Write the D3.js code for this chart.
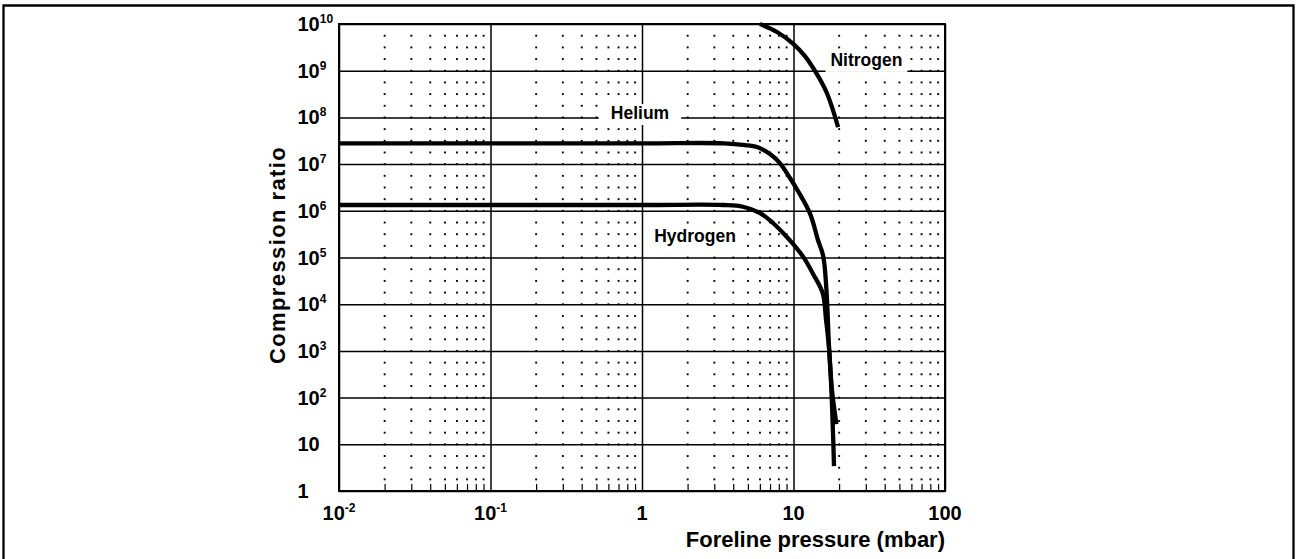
<!DOCTYPE html>
<html>
<head>
<meta charset="utf-8">
<script src="https://cdn.jsdelivr.net/npm/d3@7/dist/d3.min.js"></script>
<style>
  html, body { margin: 0; padding: 0; background: #fff; }
  svg { display: block; }
  text { font-family: "Liberation Sans", Arial, Helvetica, sans-serif; font-weight: bold; fill: #000; }
</style>
</head>
<body>
<svg id="chart" width="1296" height="559"></svg>
<script>
// Axis ticks and their labels (base + superscript exponent)
const xTicks = [0.01, 0.1, 1, 10, 100];
const xTickBase = ["10", "10", "1", "10", "100"];
const xTickExp = ["-2", "-1", "", "", ""];

const yTicks = [1, 10, 1e2, 1e3, 1e4, 1e5, 1e6, 1e7, 1e8, 1e9, 1e10];
const yTickBase = ["1", "10", "10", "10", "10", "10", "10", "10", "10", "10", "10"];
const yTickExp = ["", "", "2", "3", "4", "5", "6", "7", "8", "9", "10"];

// Compression ratio vs foreline pressure (mbar), one series per gas
const nitrogenP = [6.0, 7.78, 9.92, 11.9, 13.87, 16.6, 19.7];
const nitrogenK = [1e10, 6.74e9, 3.82e9, 2.06e9, 9.86e8, 3.33e8, 6.2e7];

const heliumP = [0.01, 1, 3.48, 4.79, 5.74, 7.0, 8.15, 9.48, 10.7, 12.9, 14.5, 15.7, 16.5, 17.2, 17.95, 19.2];
const heliumK = [2.79e7, 2.79e7, 2.79e7, 2.56e7, 2.32e7, 1.64e7, 1.04e7, 5.04e6, 2.65e6, 8.5e5, 2.37e5, 1.08e5, 2.0e4, 1.04e3, 146, 27];

const hydrogenP = [0.01, 1, 3.43, 4.64, 6.01, 7.32, 8.79, 9.93, 11.6, 13.5, 15.6, 16.4, 17.2, 17.9, 18.3, 18.5];
const hydrogenK = [1.33e6, 1.33e6, 1.33e6, 1.22e6, 8.97e5, 5.48e5, 3.03e5, 1.95e5, 1.03e5, 4.4e4, 1.71e4, 4.6e3, 1.05e3, 89, 12, 3.4];

// Curve labels: name and anchor point (pressure, ratio)
const labelNames = ["Nitrogen", "Helium", "Hydrogen"];
const labelP = [30.3, 0.97, 2.24];
const labelK = [1.7e9, 1.24e8, 2.9e5];

const svg = d3.select("#chart");
const W = 1296, H = 559;
const plot = { left: 339, right: 945, top: 24, bottom: 491 };

const x = d3.scaleLog().domain([0.01, 100]).range([plot.left, plot.right]);
const y = d3.scaleLog().domain([1, 1e10]).range([plot.bottom, plot.top]);

// Outer frame (open at the bottom edge of the page)
svg.append("path")
  .attr("d", `M3.5,${H + 5} V5.5 H1293.5 V${H + 5}`)
  .attr("fill", "none").attr("stroke", "#000").attr("stroke-width", 2.3);

// Minor pressure values 2..9 within each decade
const minorX = [];
for (let e = -2; e <= 1; e++) for (let m = 2; m <= 9; m++) minorX.push(m * Math.pow(10, e));
// Dotted minor grid: dots every quarter decade of the ratio axis
const quarterY = d3.range(0, 41).map(k => Math.pow(10, k / 4));

const dots = svg.append("g");
minorX.forEach(px => {
  quarterY.forEach(ky => {
    dots.append("rect")
      .attr("x", x(px) - 0.9).attr("y", y(ky) - 0.9)
      .attr("width", 1.9).attr("height", 1.9).attr("fill", "#000");
  });
});

// Major grid lines via axes
const plotH = plot.bottom - plot.top, plotW = plot.right - plot.left;
const gridX = svg.append("g").attr("transform", `translate(0,${plot.bottom})`)
  .call(d3.axisBottom(x).tickValues(xTicks).tickSize(-plotH).tickFormat(() => ""));
const gridY = svg.append("g").attr("transform", `translate(${plot.left},0)`)
  .call(d3.axisLeft(y).tickValues(yTicks).tickSize(-plotW).tickFormat(() => ""));
[gridX, gridY].forEach(g => {
  g.select(".domain").remove();
  g.selectAll(".tick line").attr("stroke", "#000").attr("stroke-width", 1.5);
});

// Minor ticks along the bottom edge
const minorTicks = svg.append("g").attr("transform", `translate(0,${plot.bottom})`)
  .call(d3.axisBottom(x).tickValues(minorX).tickSize(-7).tickFormat(() => ""));
minorTicks.select(".domain").remove();
minorTicks.selectAll(".tick line").attr("stroke", "#000").attr("stroke-width", 1.2);

// Plot border
svg.append("rect")
  .attr("x", plot.left).attr("y", plot.top)
  .attr("width", plotW).attr("height", plotH)
  .attr("fill", "none").attr("stroke", "#000").attr("stroke-width", 2);

// Curves
const line = d3.line()
  .x(d => x(d[0])).y(d => y(d[1]))
  .curve(d3.curveCatmullRom.alpha(0.5));

const series = [
  [nitrogenP, nitrogenK],
  [heliumP, heliumK],
  [hydrogenP, hydrogenK]
];
series.forEach(([ps, ks]) => {
  svg.append("path")
    .datum(ps.map((p, i) => [p, ks[i]]))
    .attr("d", line)
    .attr("fill", "none").attr("stroke", "#000")
    .attr("stroke-width", 4.3).attr("stroke-linecap", "butt").attr("stroke-linejoin", "round");
});

// Curve labels on white backing boxes
const labelPadX = [5, 12, 4];
labelNames.forEach((name, i) => {
  const g = svg.append("g");
  const bg = g.append("rect").attr("fill", "#fff");
  const t = g.append("text")
    .attr("x", x(labelP[i])).attr("y", y(labelK[i]))
    .attr("text-anchor", "middle").attr("dominant-baseline", "central")
    .attr("font-size", 17.5).text(name);
  const bb = t.node().getBBox();
  bg.attr("x", bb.x - labelPadX[i]).attr("y", bb.y + 1)
    .attr("width", bb.width + 2 * labelPadX[i]).attr("height", bb.height + 1);
});

// X tick labels
xTicks.forEach((v, i) => {
  const t = svg.append("text")
    .attr("x", x(v)).attr("y", 520)
    .attr("text-anchor", "middle").attr("font-size", 20);
  t.append("tspan").text(xTickBase[i]);
  if (xTickExp[i]) t.append("tspan").attr("font-size", 12).attr("dy", -8).text(xTickExp[i]);
});

// Y tick labels (left aligned)
yTicks.forEach((v, i) => {
  const t = svg.append("text")
    .attr("x", 297.5).attr("y", y(v) + 7)
    .attr("text-anchor", "start").attr("font-size", 20);
  t.append("tspan").text(yTickBase[i]);
  if (yTickExp[i]) t.append("tspan").attr("font-size", 12).attr("dy", -8).text(yTickExp[i]);
});

// Axis titles
svg.append("text")
  .attr("x", plot.right).attr("y", 547)
  .attr("text-anchor", "end").attr("font-size", 22)
  .text("Foreline pressure (mbar)");

svg.append("text")
  .attr("transform", `translate(285,255) rotate(-90)`)
  .attr("text-anchor", "middle").attr("font-size", 22)
  .attr("letter-spacing", 1.4)
  .text("Compression ratio");
</script>
</body>
</html>
